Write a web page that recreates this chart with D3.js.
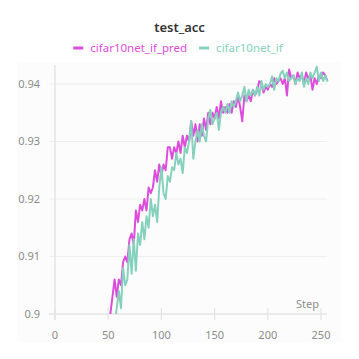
<!DOCTYPE html>
<html>
<head>
<meta charset="utf-8">
<script src="https://cdn.jsdelivr.net/npm/d3@7"></script>
<style>
body{margin:0;background:#fff;}
text{font-family:"Noto Sans","Open Sans",sans-serif;}
</style>
</head>
<body>
<div id="plot"></div>
<script>
// steps every 2 from 50 to 256
var steps = d3.range(50, 257, 2)

var predAcc = [0.896,0.900,0.903,0.906,0.903,0.906,0.905,0.909,0.910,0.909,
	0.913,0.914,0.912,0.918,0.916,0.919,0.918,0.920,0.918,0.922,
	0.921,0.922,0.925,0.923,0.926,0.924,0.926,0.925,0.929,0.929,
	0.927,0.929,0.928,0.930,0.928,0.931,0.929,0.931,0.930,0.9335,
	0.931,0.933,0.930,0.933,0.931,0.934,0.932,0.935,0.933,0.935,
	0.934,0.936,0.934,0.937,0.935,0.936,0.935,0.9365,0.935,0.937,
	0.936,0.938,0.936,0.9335,0.938,0.937,0.938,0.937,0.939,0.938,
	0.939,0.9405,0.940,0.9385,0.9395,0.939,0.940,0.9395,0.941,0.940,
	0.9405,0.941,0.940,0.941,0.938,0.9425,0.941,0.9415,0.940,0.942,
	0.941,0.9415,0.940,0.942,0.941,0.9415,0.939,0.941,0.940,0.9415,
	0.941,0.942,0.9415,0.9405]

var baseAcc = [0.893,0.895,0.897,0.898,0.901,0.904,0.901,0.908,0.905,0.906,
	0.912,0.907,0.913,0.9075,0.914,0.912,0.916,0.913,0.917,0.915,
	0.920,0.917,0.919,0.916,0.922,0.9255,0.921,0.920,0.924,0.923,
	0.9255,0.925,0.928,0.926,0.927,0.9245,0.929,0.928,0.930,0.9335,
	0.927,0.930,0.932,0.930,0.933,0.931,0.930,0.934,0.9355,0.933,
	0.934,0.935,0.932,0.935,0.936,0.935,0.9365,0.935,0.937,0.936,
	0.937,0.9385,0.937,0.938,0.9395,0.937,0.939,0.938,0.939,0.938,
	0.9395,0.938,0.9405,0.939,0.940,0.9395,0.940,0.9413,0.939,0.941,
	0.9405,0.9418,0.9423,0.941,0.942,0.9405,0.941,0.9415,0.940,0.941,
	0.9405,0.942,0.9395,0.941,0.940,0.942,0.941,0.942,0.943,0.9405,
	0.942,0.9405,0.9415,0.9404]

var seriesNames = ["cifar10net_if_pred", "cifar10net_if"]
var seriesColors = ["#dd4ddc", "#86d1bd"]
var xTicks = [0, 50, 100, 150, 200, 250]
var yTicks = [0.9, 0.91, 0.92, 0.93, 0.94]

var W = 359, H = 359
var svg = d3.select("#plot").append("svg")
	.attr("width", W).attr("height", H)

// faint panel
svg.append("rect")
	.attr("x", 17).attr("y", 62).attr("width", 324).attr("height", 280)
	.attr("fill", "#fcfcfc")

var x = d3.scaleLinear().domain([0, 256]).range([55, 327.4])
var y = d3.scaleLinear().domain([0.9, 0.9433]).range([314, 65])

// grid
yTicks.forEach(t => {
	svg.append("line")
		.attr("x1", 49).attr("x2", 327)
		.attr("y1", y(t)).attr("y2", y(t))
		.attr("stroke", t == 0.9 ? "#e4e4e4" : "#efefef")
		.attr("stroke-width", t == 0.9 ? 1.5 : 1)
	svg.append("text")
		.attr("x", 40).attr("y", y(t)).attr("dy", "0.35em")
		.attr("text-anchor", "end")
		.style("font-size", "11px").attr("fill", "#8c8c8c")
		.text(d3.format("")(t))
})
svg.append("line")
	.attr("x1", x(0)).attr("x2", x(0))
	.attr("y1", 65).attr("y2", 320)
	.attr("stroke", "#e4e4e4").attr("stroke-width", 1.5)
xTicks.forEach(t => {
	svg.append("line")
		.attr("x1", x(t)).attr("x2", x(t))
		.attr("y1", 308).attr("y2", 320)
		.attr("stroke", "#e4e4e4").attr("stroke-width", 1.2)
	svg.append("text")
		.attr("x", x(t)).attr("y", 339)
		.attr("text-anchor", "middle")
		.style("font-size", "11px").attr("fill", "#8c8c8c")
		.text(t)
})
svg.append("text")
	.attr("x", 319).attr("y", 308)
	.attr("text-anchor", "end")
	.style("font-size", "11px").attr("fill", "#8c8c8c")
	.text("Step")

svg.append("clipPath").attr("id", "clip")
	.append("rect").attr("x", 55).attr("y", 60).attr("width", 280).attr("height", 254)

var line = d3.line().x((d, i) => x(steps[i])).y(d => y(d))
;[predAcc, baseAcc].forEach((ser, k) => {
	svg.append("path")
		.datum(ser)
		.attr("clip-path", "url(#clip)")
		.attr("fill", "none")
		.attr("stroke", seriesColors[k])
		.attr("stroke-width", 2)
		.attr("stroke-linejoin", "round")
		.attr("d", line)
})

// title
svg.append("text")
	.attr("x", W/2).attr("y", 32)
	.attr("text-anchor", "middle")
	.style("font-size", "13px").style("font-weight", "600")
	.attr("fill", "#333")
	.text("test_acc")

// legend, centered
var leg = svg.append("g")
var lx = 0
seriesNames.forEach((n, k) => {
	leg.append("line")
		.attr("x1", lx).attr("x2", lx + 10)
		.attr("y1", 48).attr("y2", 48)
		.attr("stroke", seriesColors[k]).attr("stroke-width", 3)
	var tx = leg.append("text")
		.attr("x", lx + 17).attr("y", 52)
		.style("font-size", "11.5px").attr("fill", seriesColors[k])
		.text(n)
	lx += 17 + tx.node().getComputedTextLength() + 12
})
var bb = leg.node().getBBox()
leg.attr("transform", "translate(" + (W/2 - bb.width/2 - 1) + ",0)")
</script>
</body>
</html>
